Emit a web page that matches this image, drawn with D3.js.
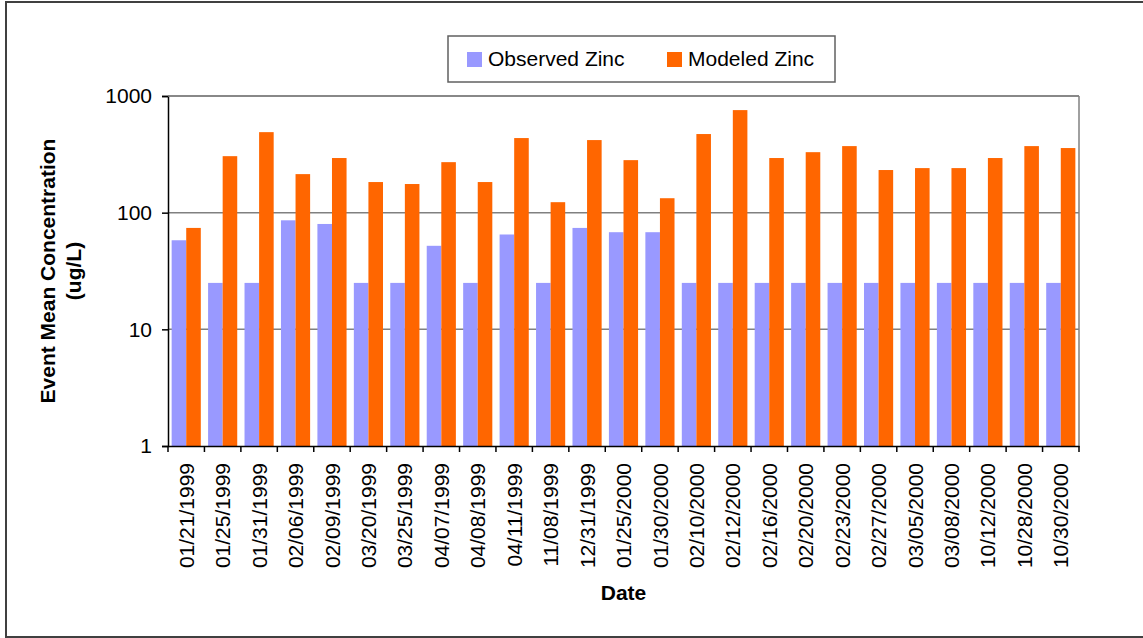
<!DOCTYPE html>
<html>
<head>
<meta charset="utf-8">
<script src="https://cdn.jsdelivr.net/npm/d3@7"></script>
<style>
  body { margin: 0; background: #fff; }
  text { font-family: "Liberation Sans", Arial, sans-serif; fill: #000; }
</style>
</head>
<body>
<div id="chart"></div>
<script>
const dates = ["01/21/1999", "01/25/1999", "01/31/1999", "02/06/1999", "02/09/1999",
  "03/20/1999", "03/25/1999", "04/07/1999", "04/08/1999", "04/11/1999",
  "11/08/1999", "12/31/1999", "01/25/2000", "01/30/2000", "02/10/2000",
  "02/12/2000", "02/16/2000", "02/20/2000", "02/23/2000", "02/27/2000",
  "03/05/2000", "03/08/2000", "10/12/2000", "10/28/2000", "10/30/2000"]
const observed = [58, 25, 25, 86, 80, 25, 25, 52, 25, 65,
  25, 74, 68, 68, 25, 25, 25, 25, 25, 25, 25, 25, 25, 25, 25]
const modeled = [74, 305, 490, 214, 294, 183, 176, 271, 183, 436,
  123, 419, 282, 133, 472, 757, 294, 330, 372, 232, 241, 241, 294, 372, 358]
const seriesNames = ["Observed Zinc", "Modeled Zinc"]
const yTicks = [1, 10, 100, 1000]

const width = 1143, height = 638
const plotLeft = 168, plotRight = 1079, plotTop = 96, plotBottom = 446
const font = "21px"

let svg = d3.select("#chart").append("svg")
  .attr("width", width)
  .attr("height", height)

// outer frame
svg.append("rect")
  .attr("x", 6).attr("y", 2)
  .attr("width", width).attr("height", 635)
  .attr("fill", "none")
  .attr("stroke", "#404040")
  .attr("stroke-width", 2)

let x = d3.scaleBand().domain(dates).range([plotLeft, plotRight])
let xs = d3.scaleBand().domain(seriesNames).range([0, x.bandwidth()]).paddingOuter(0.25)
let y = d3.scaleLog().domain([1, 1000]).range([plotBottom, plotTop])
let color = d3.scaleOrdinal().domain(seriesNames).range(["#9999ff", "#ff6600"])

// gridlines
svg.append("g")
  .selectAll("line")
  .data(yTicks.slice(1))
  .enter().append("line")
    .attr("x1", plotLeft).attr("x2", plotRight)
    .attr("y1", d => y(d)).attr("y2", d => y(d))
    .attr("stroke", "#808080")
    .attr("stroke-width", 1.5)

// plot border right
svg.append("line")
  .attr("x1", plotRight).attr("x2", plotRight)
  .attr("y1", plotTop).attr("y2", plotBottom)
  .attr("stroke", "#808080").attr("stroke-width", 1.5)

// bars
let rows = dates.map((d, i) => ({ date: d, values: [observed[i], modeled[i]] }))
let groups = svg.append("g")
  .selectAll("g")
  .data(rows)
  .enter().append("g")
    .attr("transform", d => "translate(" + x(d.date) + ",0)")

groups.selectAll("rect")
  .data(d => d.values.map((v, j) => ({ key: seriesNames[j], value: v })))
  .enter().append("rect")
    .attr("x", d => xs(d.key))
    .attr("width", xs.bandwidth())
    .attr("y", d => y(d.value))
    .attr("height", d => plotBottom - y(d.value))
    .attr("fill", d => color(d.key))

// y axis
let yAxis = svg.append("g")
  .attr("transform", "translate(" + plotLeft + ",0)")
  .call(d3.axisLeft(y).tickValues(yTicks).tickFormat(d3.format("d")).tickSize(6).tickPadding(10))
yAxis.select(".domain").attr("stroke", "#000").attr("stroke-width", 1.5)
yAxis.selectAll(".tick line").attr("stroke", "#000").attr("stroke-width", 1.5)
yAxis.selectAll("text")
  .style("font-size", font)
  .style("font-family", "'Liberation Sans', Arial, sans-serif")

// x axis
let xAxis = svg.append("g")
  .attr("transform", "translate(0," + plotBottom + ")")
  .call(d3.axisBottom(x).tickSize(0).tickSizeOuter(0))
xAxis.select(".domain").attr("stroke", "#000").attr("stroke-width", 1.5)
xAxis.selectAll(".tick text")
  .attr("transform", "rotate(-90)")
  .attr("x", -17)
  .attr("y", 0)
  .attr("dy", "0.36em")
  .style("text-anchor", "end")
  .style("font-size", font)
  .style("font-family", "'Liberation Sans', Arial, sans-serif")

// category separators
svg.append("g")
  .selectAll("line")
  .data(dates.concat(["end"]))
  .enter().append("line")
    .attr("x1", (d, i) => i < dates.length ? x(d) : plotRight)
    .attr("x2", (d, i) => i < dates.length ? x(d) : plotRight)
    .attr("y1", plotBottom).attr("y2", plotBottom + 6)
    .attr("stroke", "#000").attr("stroke-width", 1.5)

// top border
svg.append("line")
  .attr("x1", plotLeft).attr("x2", plotRight)
  .attr("y1", plotTop).attr("y2", plotTop)
  .attr("stroke", "#808080").attr("stroke-width", 1.5)

// axis titles
svg.append("text")
  .attr("x", (plotLeft + plotRight) / 2)
  .attr("y", 600)
  .attr("text-anchor", "middle")
  .style("font-size", font)
  .style("font-weight", "bold")
  .text("Date")

let yt = svg.append("text")
  .attr("transform", "translate(55," + (plotTop + plotBottom) / 2 + ") rotate(-90)")
  .attr("text-anchor", "middle")
  .style("font-size", font)
  .style("font-weight", "bold")
yt.append("tspan").attr("x", 0).attr("y", 0).text("Event Mean Concentration")
yt.append("tspan").attr("x", 0).attr("y", 26).text("(ug/L)")

// legend
let legend = svg.append("g")
legend.append("rect")
  .attr("x", 448).attr("y", 36)
  .attr("width", 387).attr("height", 46)
  .attr("fill", "#fff")
  .attr("stroke", "#606060")
  .attr("stroke-width", 1.5)

let legendX = [467, 667]
let item = legend.selectAll("g.item")
  .data(seriesNames)
  .enter().append("g")
    .attr("class", "item")
    .attr("transform", (d, i) => "translate(" + legendX[i] + ",0)")
item.append("rect")
  .attr("x", 0).attr("y", 52)
  .attr("width", 15).attr("height", 15)
  .attr("fill", d => color(d))
item.append("text")
  .attr("x", 21).attr("y", 66)
  .style("font-size", font)
  .text(d => d)
</script>
</body>
</html>
